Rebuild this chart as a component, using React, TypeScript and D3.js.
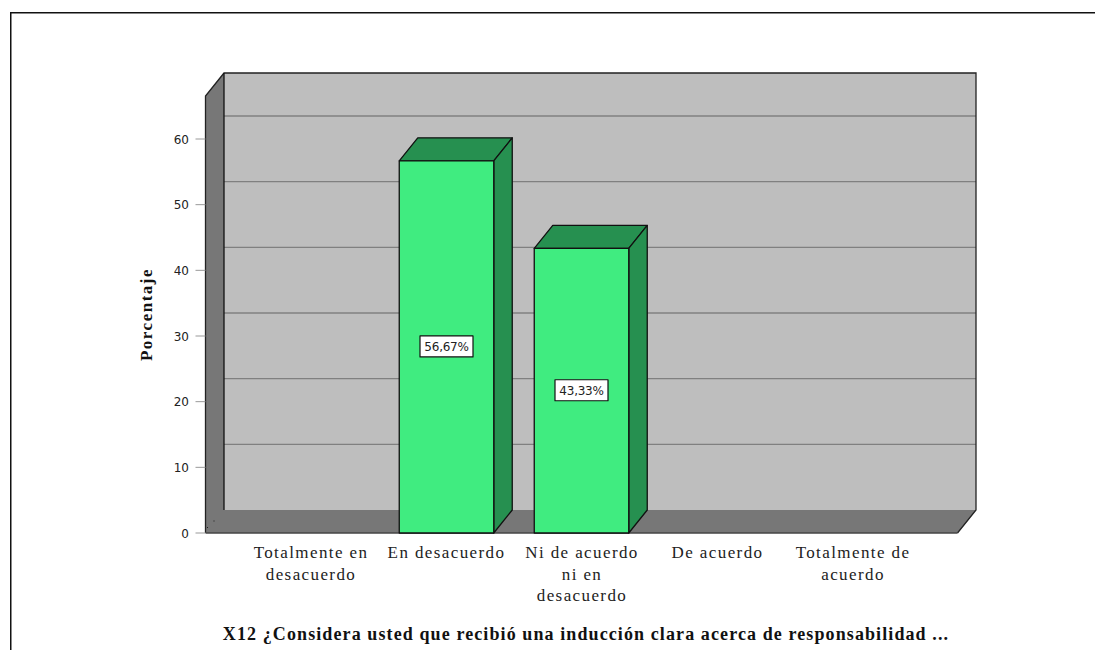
import React from "react";
import * as d3 from "d3";

const categories = ["Totalmente en desacuerdo", "En desacuerdo", "Ni de acuerdo ni en desacuerdo", "De acuerdo", "Totalmente de acuerdo"];
const categoryLines = [["Totalmente en", "desacuerdo"], ["En desacuerdo"], ["Ni de acuerdo", "ni en", "desacuerdo"], ["De acuerdo"], ["Totalmente de", "acuerdo"]];
const values = [0, 56.67, 43.33, 0, 0];
const valueLabels = ["", "56,67%", "43,33%", "", ""];
const yTicks = [0, 10, 20, 30, 40, 50, 60];
const yAxisTitle = "Porcentaje";
const chartTitle = "X12 ¿Considera usted que recibió una inducción clara acerca de responsabilidad ...";

const DX = 18.5;
const DY = -23;
const left = 205.5;
const right = 957.5;
const bottom = 533;
const top = 96;

const y = d3.scaleLinear().domain([0, 60]).range([bottom, 139]);
const x = d3.scaleBand<string>().domain(categories).range([244, 919]).paddingInner(0.3).paddingOuter(0.15);
const labelX = d3.scalePoint<string>().domain(categories).range([311, 853]);

const WALL = "#bebebe";
const SHADE = "#777777";
const GREEN = "#40ec80";
const DARK = "#269050";
const INK = "#111111";

const poly = (pts: [number, number][]) => d3.line()(pts)! + "Z";

export default function App() {
  return (
    <svg width={1095} height={650} style={{ position: "absolute", left: 0, top: 0, background: "#fff" }}>
      <path d="M10.75 650V12.75H1095" fill="none" stroke="#111" strokeWidth={1.5} />
      {/* back wall */}
      <rect x={left + DX} y={top + DY} width={right - left} height={bottom - top} fill={WALL} />
      {/* side wall and floor */}
      <path d={poly([[left, top], [left + DX, top + DY], [left + DX, bottom + DY], [right + DX, bottom + DY], [right, bottom], [left, bottom]])} fill={SHADE} />
      {/* grid on back wall */}
      {yTicks.slice(1).map((t) => (
        <line key={t} x1={left + DX} x2={right + DX} y1={y(t) + DY} y2={y(t) + DY} stroke="#808080" strokeWidth={1.3} />
      ))}
      {/* outlines */}
      <path d={d3.line()([[left, bottom], [left, top], [left + DX, top + DY], [right + DX, top + DY], [right + DX, bottom + DY], [right, bottom]])!} fill="none" stroke="#222" strokeWidth={1.3} />
      <line x1={left + DX} x2={left + DX} y1={top + DY} y2={bottom + DY} stroke="#111" strokeWidth={1.3} />
      <line x1={left} x2={right} y1={bottom} y2={bottom} stroke="#444" strokeWidth={1.5} />
      <rect x={213.5} y={520.5} width={1} height={1} fill="#222" />
      <rect x={207} y={527} width={1} height={1} fill="#222" />
      {/* y axis */}
      {yTicks.map((t) => (
        <g key={t}>
          <line x1={195.5} x2={left} y1={y(t)} y2={y(t)} stroke="#999" />
          <text x={189} y={y(t) + 4.5} textAnchor="end" fontFamily="'DejaVu Sans', sans-serif" fontSize={12} fill="#222">{t}</text>
        </g>
      ))}
      <text transform="translate(151.5 314.5) rotate(-90)" textAnchor="middle" fontFamily="'Liberation Serif', serif" fontWeight="bold" fontSize={17} letterSpacing={1.5} fill="#111">{yAxisTitle}</text>
      {/* bars */}
      {categories.map((c, i) => {
        if (!values[i]) return null;
        const x0 = x(c)!;
        const x1 = x0 + x.bandwidth();
        const yv = y(values[i]);
        return (
          <g key={c} stroke={INK} strokeWidth={1.3} strokeLinejoin="round">
            <path d={poly([[x0, yv], [x0 + DX, yv + DY], [x1 + DX, yv + DY], [x1, yv]])} fill={DARK} />
            <path d={poly([[x1, yv], [x1 + DX, yv + DY], [x1 + DX, bottom + DY], [x1, bottom]])} fill={DARK} />
            <rect x={x0} y={yv} width={x.bandwidth()} height={bottom - yv} fill={GREEN} />
            <rect x={(x0 + x1) / 2 - 26.5} y={(yv + bottom) / 2 - 11} width={53} height={21} fill="#fff" strokeWidth={1.2} />
            <text x={(x0 + x1) / 2} y={(yv + bottom) / 2 + 4.3} textAnchor="middle" stroke="none" fill="#222" fontFamily="'DejaVu Sans', sans-serif" fontSize={12} letterSpacing={-0.25}>{valueLabels[i]}</text>
          </g>
        );
      })}
      {/* category labels */}
      {categories.map((c, i) => (
        <text key={c} textAnchor="middle" fontFamily="'Liberation Serif', serif" fontSize={17} letterSpacing={1.4} fill="#222">
          {categoryLines[i].map((l, j) => (
            <tspan key={j} x={labelX(c)!} y={558 + j * 21.5}>{l}</tspan>
          ))}
        </text>
      ))}
      <text x={586} y={640} textAnchor="middle" fontFamily="'Liberation Serif', serif" fontWeight="bold" fontSize={18} letterSpacing={1.1} fill="#111">{chartTitle}</text>
    </svg>
  );
}
